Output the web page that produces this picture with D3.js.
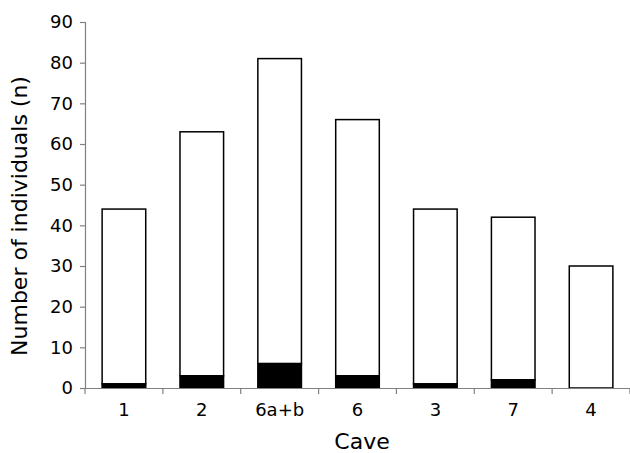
<!DOCTYPE html>
<html><head><meta charset="utf-8">
<script src="https://cdn.jsdelivr.net/npm/d3@7"></script>
<style>body{margin:0;background:#fff}svg{display:block}</style>
</head><body>
<script>
const categories = ["1","2","6a+b","6","3","7","4"];
const blackValues = [1,3,6,3,1,2,0];
const totalValues = [44,63,81,66,44,42,30];
const yTicks = [0,10,20,30,40,50,60,70,80,90];

const W=630,H=453;
const m={left:85,right:0,top:22,bottom:65};
const svg=d3.select("body").append("svg").attr("width",W).attr("height",H);
const x=d3.scaleBand().domain(categories).range([m.left,W-m.right]).paddingInner(0.44).paddingOuter(0.22);
const y=d3.scaleLinear().domain([0,90]).range([H-m.bottom,m.top]);
const font="DejaVu Sans, Verdana, sans-serif";

const data=categories.map((c,i)=>({c,b:blackValues[i],t:totalValues[i]}));
svg.append("g").selectAll("rect").data(data).join("rect")
 .attr("x",d=>x(d.c)).attr("width",x.bandwidth())
 .attr("y",d=>y(d.t)).attr("height",d=>y(d.b)-y(d.t))
 .attr("fill","#fff").attr("stroke","#000").attr("stroke-width",1.5);
svg.append("g").selectAll("rect").data(data.filter(d=>d.b>0)).join("rect")
 .attr("x",d=>x(d.c)).attr("width",x.bandwidth())
 .attr("y",d=>y(d.b)).attr("height",d=>y(0)-y(d.b))
 .attr("fill","#000").attr("stroke","#000").attr("stroke-width",1.5);

const ya=svg.append("g").attr("transform",`translate(${m.left},0)`)
 .call(d3.axisLeft(y).tickValues(yTicks).tickSize(5).tickPadding(7));
ya.select(".domain").attr("stroke","#808080").attr("stroke-width",1.2);
ya.selectAll(".tick line").attr("stroke","#808080").attr("stroke-width",1.2);
ya.selectAll("text").attr("font-family",font).attr("font-size",18).attr("fill","#000");

const bottomY=y(0);
const xa=svg.append("g").attr("transform",`translate(0,${bottomY})`)
 .call(d3.axisBottom(x).tickSize(0).tickPadding(15));
xa.select(".domain").attr("stroke","#808080").attr("stroke-width",1.2);
xa.selectAll("text").attr("font-family",font).attr("font-size",18).attr("fill","#000");
const step=x.step();
const bounds=d3.range(categories.length+1).map(i=>m.left+i*step);
svg.append("g").selectAll("line").data(bounds).join("line")
 .attr("x1",d=>d).attr("x2",d=>d).attr("y1",bottomY).attr("y2",bottomY+6)
 .attr("stroke","#808080").attr("stroke-width",1.2);

svg.append("text").attr("x",362).attr("y",449).attr("text-anchor","middle")
 .attr("font-family",font).attr("font-size",22).text("Cave");
svg.append("text").attr("transform",`translate(27,216) rotate(-90)`).attr("text-anchor","middle")
 .attr("font-family",font).attr("font-size",22).text("Number of individuals (n)");
</script>
</body></html>
